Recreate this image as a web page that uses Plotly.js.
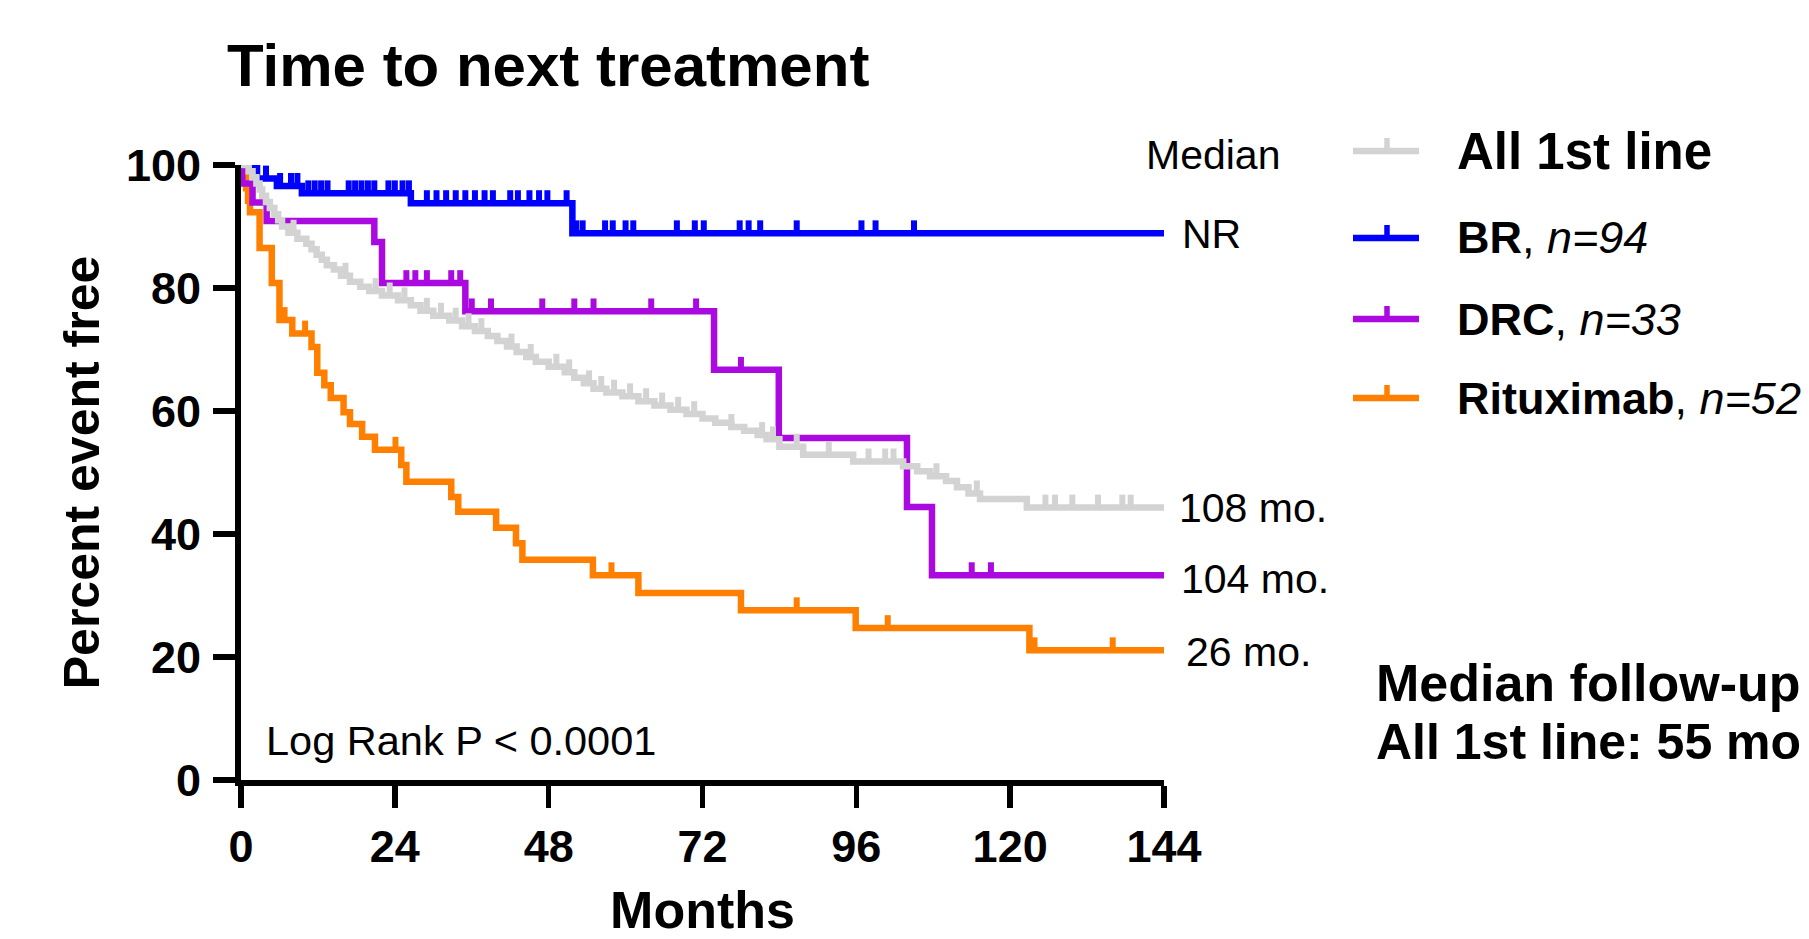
<!DOCTYPE html>
<html>
<head>
<meta charset="utf-8">
<script src="https://cdn.plot.ly/plotly-3.0.1.min.js"></script>
<style>
html,body{margin:0;padding:0;background:#ffffff;overflow:hidden;}
#chart{width:1809px;height:939px;}
</style>
</head>
<body>
<div id="chart"></div>
<script>
// ---------------- DATA ----------------
const groupNames = ["All 1st line", "BR", "DRC", "Rituximab"];
const groupN = [null, 94, 33, 52];
const medianLabels = ["108 mo.", "NR", "104 mo.", "26 mo."];
const xTitle = "Months";
const yTitle = "Percent event free";

// All 1st line (Kaplan-Meier step points: month, percent event free)
const allT = [0, 1.2, 1.8, 2.4, 2.9, 3.3, 3.9, 4.5, 5.2, 5.8, 6.4, 7.4, 8.8, 10.2, 11.0, 11.8, 12.6, 13.4, 14.5, 15.6, 17.0, 18.6, 20.0, 22.0, 24.5, 26.5, 28.0, 30.0, 32.5, 34.5, 36.5, 38.5, 40.0, 41.5, 43.0, 44.5, 46.0, 48.0, 50.5, 52.0, 53.5, 55.0, 57.0, 59.5, 62.0, 64.5, 67.0, 69.5, 72.0, 74.0, 76.5, 78.5, 80.6, 82.0, 84.0, 87.7, 95.5, 103.3, 105.5, 107.5, 110.0, 111.7, 113.5, 115.3, 122.6, 144];
const allS = [100, 99.0, 98.0, 97.0, 96.0, 95.0, 94.0, 93.0, 92.0, 91.0, 90.0, 89.0, 88.0, 87.2, 86.3, 85.4, 84.6, 83.7, 83.0, 82.0, 81.0, 80.2, 79.5, 78.8, 78.0, 77.2, 76.3, 75.5, 74.7, 73.8, 73.0, 72.2, 71.4, 70.5, 69.6, 68.8, 68.0, 67.2, 66.3, 65.4, 64.5, 63.6, 63.0, 62.4, 61.6, 60.9, 60.2, 59.5, 58.8, 58.1, 57.4, 56.8, 56.1, 55.4, 54.2, 52.9, 51.8, 51.0, 50.2, 49.4, 48.6, 47.6, 46.6, 45.7, 44.3, 44.3];
const allCensor = [0.5, 8.2, 16.3, 21.0, 23.2, 25.5, 29.0, 31.2, 33.5, 35.5, 37.5, 42.2, 45.2, 49.2, 51.2, 54.3, 56.2, 58.2, 60.7, 63.2, 65.7, 68.2, 70.7, 76.5, 81.3, 83.0, 86.7, 91.7, 97.9, 100.5, 101.8, 108.5, 114.8, 125.5, 127.0, 129.7, 133.7, 137.5, 138.8];

// BR
const brT = [0, 2.5, 5.6, 9.5, 26.5, 51.7, 144];
const brS = [100, 97.8, 96.6, 95.4, 93.8, 88.9, 88.9];
const brCensor = [3.9, 6.1, 7.8, 8.8, 10.5, 11.5, 12.5, 13.5, 16.8, 17.8, 18.8, 19.8, 20.8, 23.0, 24.0, 25.2, 26.2, 29.0, 30.5, 32.0, 33.5, 35.0, 36.5, 38.0, 39.3, 42.0, 43.2, 45.0, 46.5, 47.8, 50.8, 52.3, 53.3, 56.8, 58.0, 60.0, 61.2, 68.0, 70.8, 72.2, 77.8, 79.2, 81.0, 86.7, 96.8, 99.0, 105.0];

// DRC
const drcT = [0, 0.2, 1.8, 4.0, 20.8, 22.0, 35.0, 73.8, 83.9, 103.9, 107.8, 144];
const drcS = [100, 97.0, 93.9, 90.9, 87.5, 80.8, 76.2, 66.7, 55.6, 44.4, 33.3, 33.3];
const drcCensor = [25.8, 27.2, 29.0, 32.8, 34.2, 36.0, 39.0, 47.0, 52.0, 55.0, 64.0, 71.0, 78.0, 114.0, 117.0];

// Rituximab
const rtxT = [0, 0.4, 0.8, 1.1, 1.4, 2.9, 4.8, 6.0, 8.0, 11.0, 11.9, 13.0, 14.0, 16.0, 17.0, 18.9, 20.9, 25.0, 25.8, 32.8, 33.9, 39.8, 42.9, 43.9, 54.9, 62.0, 78.0, 95.9, 123.0, 144];
const rtxS = [100, 98.1, 96.2, 94.2, 92.3, 86.5, 80.8, 74.8, 72.6, 70.4, 66.2, 64.2, 62.1, 59.8, 57.9, 55.8, 53.7, 51.2, 48.5, 46.0, 43.6, 41.0, 38.5, 35.8, 33.3, 30.4, 27.6, 24.7, 21.1, 21.1];
const rtxCensor = [6.8, 10.0, 24.1, 57.8, 86.7, 100.9, 123.8, 136.0];

const xTicks = [0, 24, 48, 72, 96, 120, 144];
const yTicks = [0, 20, 40, 60, 80, 100];

// ---------------- STYLE ----------------
const FONT = "Liberation Sans, Arial, Helvetica, sans-serif";
const colors = ["#D3D3D3", "#0000FF", "#AA0ADF", "#FF8000"];
const LINE_W = 6.5;
const TICK_H = 2.1;   // censor tick height in percent units

function stepAt(T, S, t) {
  let v = S[0];
  for (let i = 0; i < T.length; i++) { if (T[i] <= t) v = S[i]; else break; }
  return v;
}

const series = [
  {T: rtxT, S: rtxS, C: rtxCensor, idx: 3},
  {T: drcT, S: drcS, C: drcCensor, idx: 2},
  {T: brT,  S: brS,  C: brCensor,  idx: 1},
  {T: allT, S: allS, C: allCensor, idx: 0}
];

const traces = [];
series.forEach(s => {
  const col = colors[s.idx];
  traces.push({
    type: "scatter", mode: "lines", x: s.T, y: s.S,
    line: {shape: "hv", color: col, width: LINE_W},
    name: groupNames[s.idx], showlegend: false, hoverinfo: "skip", cliponaxis: false
  });
  traces.push({
    type: "scatter", mode: "markers", x: s.C, y: s.C.map(t => stepAt(s.T, s.S, t)),
    marker: {size: 1, color: col, opacity: 0},
    error_y: {type: "data", symmetric: false, array: s.C.map(() => TICK_H), arrayminus: s.C.map(() => 0),
              width: 0, thickness: 6, color: col, visible: true},
    name: groupNames[s.idx] + " censored", showlegend: false, hoverinfo: "skip", cliponaxis: false
  });
});

// ---------------- LAYOUT ----------------
const L = 241, R = 645, T = 165, B = 159;
const W = 1809, H = 939;
const PW = W - L - R, PH = H - T - B;
const px = v => (v - L) / PW;          // pixel -> paper x
const py = v => (H - B - v) / PH;      // pixel -> paper y

const legendY = [151, 238, 319, 398];
const shapes = [];
const annotations = [];
legendY.forEach((yy, i) => {
  shapes.push({type: "line", xref: "paper", yref: "paper", x0: px(1353), x1: px(1419), y0: py(yy), y1: py(yy),
               line: {color: colors[i], width: 6.5}});
  shapes.push({type: "line", xref: "paper", yref: "paper", x0: px(1387), x1: px(1387), y0: py(yy), y1: py(yy - 13),
               line: {color: colors[i], width: 5.5}});
  const label = i === 0 ? "<b>" + groupNames[i] + "</b>"
                        : "<b>" + groupNames[i] + "</b>, <i>n=" + groupN[i] + "</i>";
  annotations.push({xref: "paper", yref: "paper", x: px(1455), y: py(yy), xanchor: "left", yanchor: "middle",
                    text: label, showarrow: false, font: {family: FONT, size: i === 0 ? 51 : 45, color: "#000"}});
});

annotations.push({xref: "paper", yref: "paper", x: px(1144), y: py(155), xanchor: "left", yanchor: "middle",
                  text: "Median", showarrow: false, font: {family: FONT, size: 41, color: "#000"}});
const medY = [507.5, 234, 579, 652];
const medX = [1177, 1180, 1179, 1184];
medianLabels.forEach((t, i) => {
  annotations.push({xref: "paper", yref: "paper", x: px(medX[i]), y: py(medY[i]), xanchor: "left", yanchor: "middle",
                    text: t, showarrow: false, font: {family: FONT, size: 41, color: "#000"}});
});
annotations.push({xref: "paper", yref: "paper", x: px(264), y: py(740), xanchor: "left", yanchor: "middle",
                  text: "Log Rank P < 0.0001", showarrow: false, font: {family: FONT, size: 41.5, color: "#000"}});
annotations.push({xref: "paper", yref: "paper", x: px(1374), y: py(683), xanchor: "left", yanchor: "middle",
                  text: "<b>Median follow-up</b>", showarrow: false, font: {family: FONT, size: 52, color: "#000"}});
annotations.push({xref: "paper", yref: "paper", x: px(1374), y: py(742), xanchor: "left", yanchor: "middle",
                  text: "<b>All 1st line: 55 mo</b>", showarrow: false, font: {family: FONT, size: 50, color: "#000"}});

const axisCommon = {
  showline: true, linecolor: "#000", linewidth: 6, mirror: false,
  ticks: "outside", ticklen: 22, tickwidth: 5.5, tickcolor: "#000",
  showgrid: false, zeroline: false, fixedrange: true,
  tickfont: {family: FONT, size: 45, color: "#000", weight: "bold"}
};

const layout = {
  width: W, height: H,
  margin: {l: L, r: R, t: T, b: B, autoexpand: false},
  paper_bgcolor: "#fff", plot_bgcolor: "#fff",
  showlegend: false,
  title: {text: "<b>Time to next treatment</b>", xref: "container", yref: "container",
          x: 227 / W, xanchor: "left", y: 1 - 64.6 / H, yanchor: "middle",
          font: {family: FONT, size: 60, color: "#000"}},
  xaxis: Object.assign({}, axisCommon, {
    range: [0, 144], tickmode: "array", tickvals: xTicks, ticktext: xTicks.map(String),
    ticklabelstandoff: 0,
    title: {text: "<b>" + xTitle + "</b>", font: {family: FONT, size: 52, color: "#000"}, standoff: 54}
  }),
  yaxis: Object.assign({}, axisCommon, {
    range: [0, 100], tickmode: "array", tickvals: yTicks, ticktext: yTicks.map(String),
    ticklabelstandoff: 3,
    title: {text: "<b>" + yTitle + "</b>", font: {family: FONT, size: 50, color: "#000"}, standoff: 12}
  }),
  shapes: shapes,
  annotations: annotations
};

Plotly.newPlot("chart", traces, layout, {staticPlot: true, displayModeBar: false});
</script>
</body>
</html>
